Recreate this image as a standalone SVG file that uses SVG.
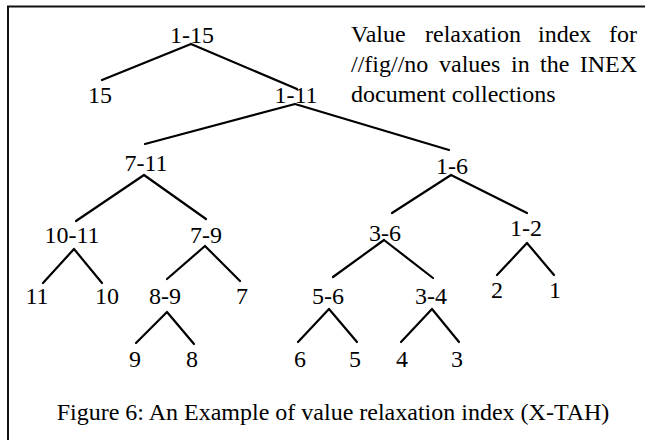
<svg xmlns="http://www.w3.org/2000/svg" width="645" height="440" viewBox="0 0 645 440">
  <style>
    .lbl { font-family: "Liberation Serif", "Times New Roman", serif; font-size: 24px; fill: #000; text-anchor: middle; }
    .note { font-family: "Liberation Serif", "Times New Roman", serif; font-size: 24px; fill: #000; }
    .cap { font-family: "Liberation Serif", "Times New Roman", serif; font-size: 24px; fill: #000; text-anchor: middle; }
    .edge { stroke: #000; stroke-width: 2.2; fill: none; stroke-linecap: round; }
    .frame { stroke: #111; stroke-width: 2; fill: none; }
  </style>
  <rect width="645" height="440" fill="#fff"/>
  <!-- frame: only top and left edges are visible -->
  <path class="frame" d="M8 440 V6.5 H645"/>

  <!-- descriptive note, justified -->
  <g id="note" class="note">
    <text y="42"><tspan x="351">Value</tspan><tspan x="425">relaxation</tspan><tspan x="538">index</tspan><tspan x="637" text-anchor="end">for</tspan></text>
    <text y="72"><tspan x="351">//fig//no</tspan><tspan x="439">values</tspan><tspan x="511">in</tspan><tspan x="540">the</tspan><tspan x="637" text-anchor="end">INEX</tspan></text>
    <text x="351" y="102">document collections</text>
  </g>

  <g id="connectors" class="edge">
    <path d="M191 44 L102 80 M191 44 L297 89"/>
    <path d="M295 104 L145 144 M295 104 L449 150"/>
    <path d="M144 175 L76 221 M144 175 L206 219"/>
    <path d="M451 175 L392 213 M451 175 L527 213"/>
    <path d="M74 249 L43 283 M74 249 L102 283"/>
    <path d="M205 246 L167 279 M205 246 L240 281"/>
    <path d="M384 240 L333 277 M384 240 L433 278"/>
    <path d="M527 243 L497 275 M527 243 L554 275"/>
    <path d="M167 312 L136 343 M167 312 L194 344"/>
    <path d="M329 309 L298 342 M329 309 L357 342"/>
    <path d="M432 309 L401 342 M432 309 L459 342"/>
  </g>

  <g id="n1-15"><text class="lbl" x="192" y="43">1-15</text></g>
  <g id="n15"><text class="lbl" x="100" y="103">15</text></g>
  <g id="n1-11"><text class="lbl" x="296" y="103">1-11</text></g>
  <g id="n7-11"><text class="lbl" x="146" y="171">7-11</text></g>
  <g id="n1-6"><text class="lbl" x="452" y="174">1-6</text></g>
  <g id="n10-11"><text class="lbl" x="72" y="243">10-11</text></g>
  <g id="n7-9"><text class="lbl" x="206" y="243">7-9</text></g>
  <g id="n3-6"><text class="lbl" x="385" y="241">3-6</text></g>
  <g id="n1-2"><text class="lbl" x="526" y="236">1-2</text></g>
  <g id="n11"><text class="lbl" x="37" y="304">11</text></g>
  <g id="n10"><text class="lbl" x="107" y="304">10</text></g>
  <g id="n8-9"><text class="lbl" x="165" y="304">8-9</text></g>
  <g id="n7"><text class="lbl" x="242" y="304">7</text></g>
  <g id="n5-6"><text class="lbl" x="328" y="304">5-6</text></g>
  <g id="n3-4"><text class="lbl" x="431" y="304">3-4</text></g>
  <g id="n2"><text class="lbl" x="497" y="298">2</text></g>
  <g id="n1"><text class="lbl" x="555" y="298">1</text></g>
  <g id="n9"><text class="lbl" x="135" y="367">9</text></g>
  <g id="n8"><text class="lbl" x="192" y="367">8</text></g>
  <g id="n6"><text class="lbl" x="300" y="367">6</text></g>
  <g id="n5"><text class="lbl" x="355" y="367">5</text></g>
  <g id="n4"><text class="lbl" x="402" y="367">4</text></g>
  <g id="n3"><text class="lbl" x="457" y="367">3</text></g>

  <text class="cap" x="333" y="420">Figure 6: An Example of value relaxation index (X-TAH)</text>
</svg>
